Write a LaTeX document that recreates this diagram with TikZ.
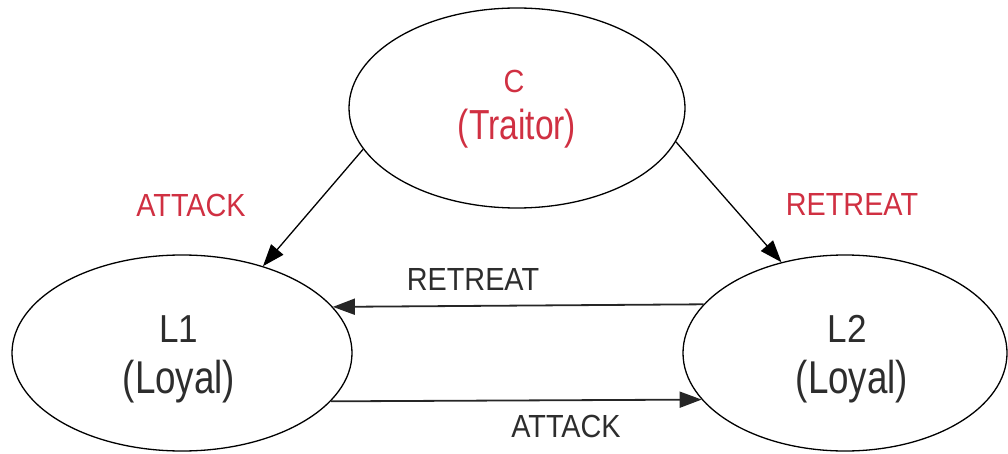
\documentclass[tikz,border=0pt]{standalone}
\usepackage{fontspec}
\setmainfont{Liberation Sans}
\newfontfamily\namefont[FakeStretch=0.9]{Liberation Sans}
\newfontfamily\rolefont[FakeStretch=0.8]{Liberation Sans}
\newfontfamily\orderfont[FakeStretch=0.9]{Liberation Sans}
\usetikzlibrary{shapes.geometric,arrows.meta}
\definecolor{traitorred}{RGB}{208,48,66}
\definecolor{inkgray}{RGB}{45,45,45}
\tikzset{
  general/.style={draw=black, ellipse, line width=1.3pt, inner sep=0pt},
  txt/.style={inner sep=0pt, anchor=base},
  order/.style={txt, font=\orderfont\fontsize{32}{34}\selectfont},
  msg/.style={-{Triangle[length=22pt,width=16pt]}, line width=1.3pt, draw=black},
  msgflat/.style={msg, line width=1.8pt, draw=black!85}
}
\begin{document}
\begin{tikzpicture}[x=1pt, y=-1pt]
  \useasboundingbox (0,0) rectangle (1008,454);
  % the three generals
  \node[general, minimum width=336pt, minimum height=200pt] (C) at (517,108) {};
  \node[general, minimum width=340pt, minimum height=196pt] (L1) at (182,353) {};
  \node[general, minimum width=324pt, minimum height=196pt] (L2) at (845,353) {};
  % their names and roles
  \node[txt, text=traitorred, font=\namefont\fontsize{32}{34}\selectfont] (Cn) at (514,93) {C};
  \node[txt, text=traitorred, font=\rolefont\fontsize{42}{44}\selectfont] (Cr) at (517,140) {(Traitor)};
  \node[txt, text=inkgray, font=\namefont\fontsize{39}{41}\selectfont] (L1n) at (179,342) {L1};
  \node[txt, text=inkgray, font=\rolefont\fontsize{46}{48}\selectfont] (L1r) at (179,393) {(Loyal)};
  \node[txt, text=inkgray, font=\namefont\fontsize{39}{41}\selectfont] (L2n) at (847,342) {L2};
  \node[txt, text=inkgray, font=\rolefont\fontsize{46}{48}\selectfont] (L2r) at (852,393) {(Loyal)};
  % orders sent by the commander
  \draw[msg] (C.195) -- (L1.47.7);
  \draw[msg] (C.348) -- (L2.125.8);
  % messages relayed between the lieutenants (both horizontal)
  \draw[msgflat] (L2.161.23) -- (L1.17.95);
  \draw[msgflat] (L1.342.5) -- (L2.198.29);
  % message labels
  \node[order, text=traitorred] (oa) at (191,217) {ATTACK};
  \node[order, text=traitorred] (or) at (852,215) {RETREAT};
  \node[order, text=inkgray] (mr) at (473,290) {RETREAT};
  \node[order, text=inkgray] (ma) at (566,437) {ATTACK};
\end{tikzpicture}
\end{document}
